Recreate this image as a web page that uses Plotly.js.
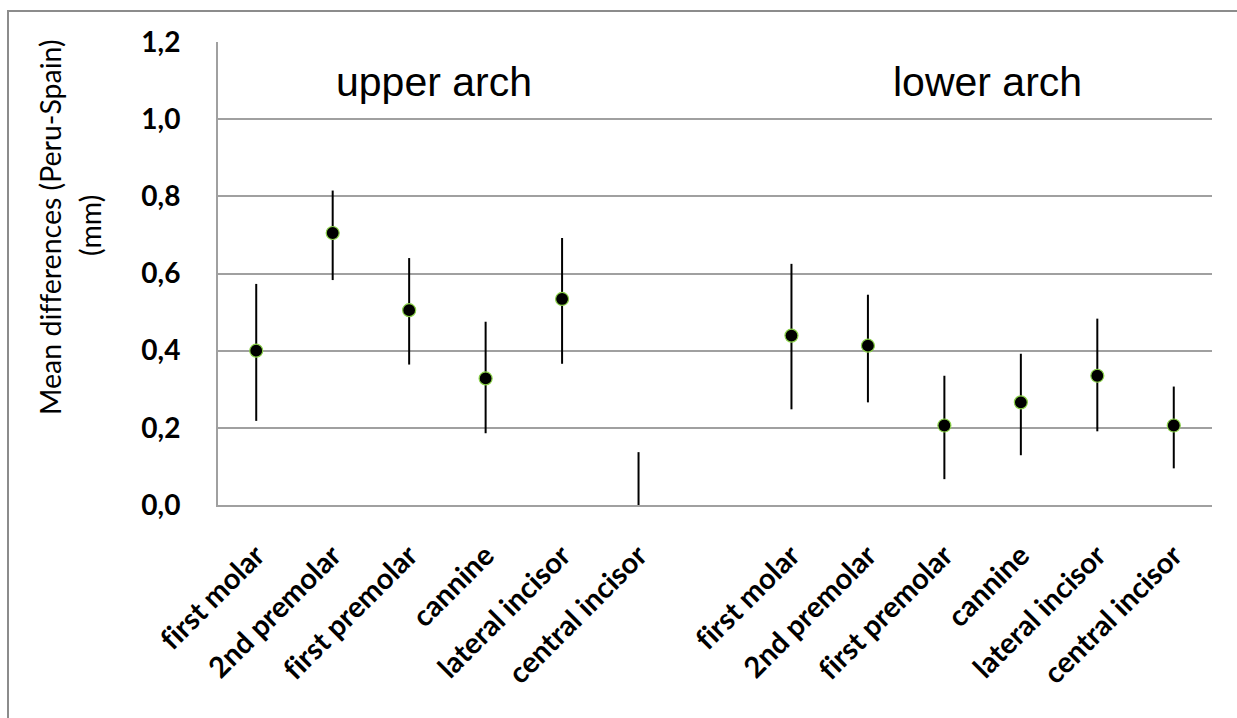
<!DOCTYPE html>
<html>
<head>
<meta charset="utf-8">
<script src="https://cdn.plot.ly/plotly-3.0.1.min.js"></script>
<style>html,body{margin:0;padding:0;background:#fff;}#chart{width:1237px;height:718px;}
text{font-variant-ligatures:none;font-feature-settings:"liga" 0;}</style>
</head>
<body>
<div id="chart"></div>
<script>
// Category slots (slot 6 is an empty gap between arches)
const upperTeeth = ["first molar", "2nd premolar", "first premolar", "cannine", "lateral incisor", "central incisor"];
const lowerTeeth = ["first molar", "2nd premolar", "first premolar", "cannine", "lateral incisor", "central incisor"];
const upperSlots = [0, 1, 2, 3, 4, 5];
const lowerSlots = [7, 8, 9, 10, 11, 12];

// Mean differences and confidence limits (mm)
const upperMean = [0.40, 0.705, 0.505, 0.328, 0.534, -0.05];
const upperHigh = [0.573, 0.815, 0.640, 0.475, 0.692, 0.137];
const upperLow  = [0.218, 0.583, 0.364, 0.186, 0.366, -0.24];

const lowerMean = [0.439, 0.413, 0.206, 0.266, 0.335, 0.206];
const lowerHigh = [0.625, 0.545, 0.335, 0.392, 0.483, 0.307];
const lowerLow  = [0.248, 0.266, 0.067, 0.129, 0.191, 0.095];

const yTickVals = [0, 0.2, 0.4, 0.6, 0.8, 1.0, 1.2];
const yTickText = ["0,0", "0,2", "0,4", "0,6", "0,8", "1,0", "1,2"];

const xs = upperSlots.concat(lowerSlots);
const means = upperMean.concat(lowerMean);
const highs = upperHigh.concat(lowerHigh);
const lows = upperLow.concat(lowerLow);
const plus = highs.map((h, i) => h - means[i]);
const minus = lows.map((l, i) => means[i] - l);

const trace = {
  x: xs, y: means, type: "scatter", mode: "markers",
  cliponaxis: true,
  marker: {color: "#000", size: 13, line: {color: "#8bd14a", width: 1.2}},
  error_y: {type: "data", symmetric: false, array: plus, arrayminus: minus,
            color: "#000", thickness: 2, width: 0},
  hoverinfo: "skip", showlegend: false
};

const L = 218, R = 25, T = 42, B = 213;
const W = 1237, H = 718;
const pw = W - L - R, ph = H - T - B;
const px = v => (v - L) / pw;
const py = v => (H - B - v) / ph;

const layout = {
  width: W, height: H,
  margin: {l: L, r: R, t: T, b: B},
  paper_bgcolor: "#fff", plot_bgcolor: "#fff",
  font: {family: "Lato, 'Open Sans', sans-serif", color: "#000"},
  xaxis: {
    range: [-0.5, 12.5], showgrid: false, zeroline: false,
    showline: true, linecolor: "#a0a0a0", linewidth: 2,
    tickmode: "array", tickvals: xs, ticktext: upperTeeth.concat(lowerTeeth),
    tickangle: -45, ticks: "", ticklabelstandoff: 20,
    tickfont: {family: "Lato, sans-serif", size: 29, weight: "bold", color: "#000"}
  },
  yaxis: {
    range: [0, 1.2], showgrid: true, gridcolor: "#a0a0a0", gridwidth: 2,
    zeroline: false, showline: true, linecolor: "#a0a0a0", linewidth: 2,
    tickmode: "array", tickvals: yTickVals, ticktext: yTickText,
    ticks: "", ticklabelstandoff: 30,
    tickfont: {family: "Lato, sans-serif", size: 28, weight: "bold", color: "#000"}
  },
  annotations: [
    {text: "upper arch", xref: "paper", yref: "paper", x: px(434), y: py(82),
     xanchor: "center", yanchor: "middle",
     showarrow: false, font: {family: "'Liberation Sans', Arial, sans-serif", size: 41, color: "#000"}},
    {text: "lower arch", xref: "paper", yref: "paper", x: px(987), y: py(82),
     xanchor: "center", yanchor: "middle",
     showarrow: false, font: {family: "'Liberation Sans', Arial, sans-serif", size: 41, color: "#000"}},
    {text: "Mean differences (Peru-Spain)", xref: "paper", yref: "paper", x: px(50), y: py(227),
     xanchor: "center", yanchor: "middle",
     textangle: -90, showarrow: false, font: {family: "Lato, sans-serif", size: 28.5, color: "#000"}},
    {text: "(mm)", xref: "paper", yref: "paper", x: px(90), y: py(226),
     xanchor: "center", yanchor: "middle",
     textangle: -90, showarrow: false, font: {family: "Lato, sans-serif", size: 28.5, color: "#000"}}
  ],
  shapes: [
    {type: "rect", xref: "paper", yref: "paper", x0: px(8), x1: px(1300), y0: py(800), y1: py(11),
     line: {color: "#8c8c8c", width: 2}, layer: "below"}
  ]
};

Plotly.newPlot("chart", [trace], layout, {displayModeBar: false, staticPlot: true});
</script>
</body>
</html>
